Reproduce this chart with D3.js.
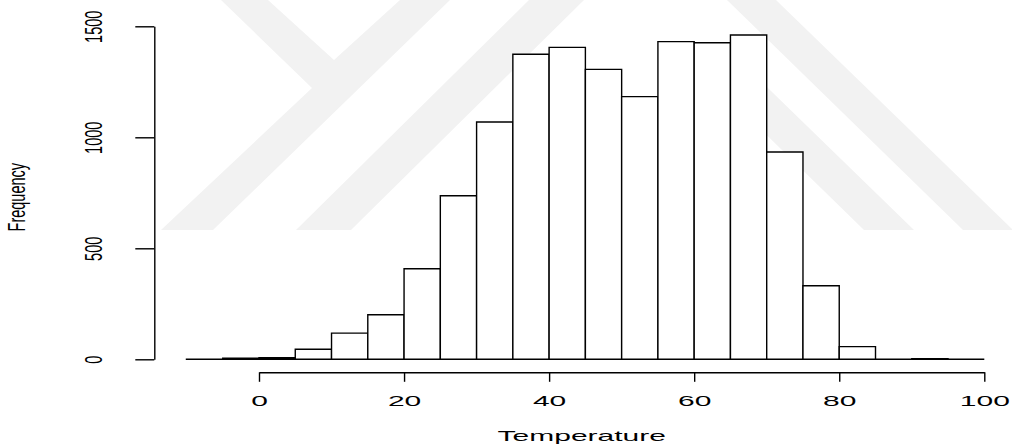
<!DOCTYPE html>
<html>
<head>
<meta charset="utf-8">
<script src="https://cdn.jsdelivr.net/npm/d3@7"></script>
<style>
  html, body { margin: 0; padding: 0; background: #fff; }
  text { font-family: "Liberation Sans", Arial, Helvetica, sans-serif; fill: #000; }
</style>
</head>
<body>
<div id="chart"></div>
<script>
'use strict';

// histogram of temperature, bins of width 5
var binStarts = [-10, -5, 0, 5, 10, 15, 20, 25, 30, 35, 40, 45, 50, 55, 60, 65, 70, 75, 80, 85, 90, 95];
var counts = [1, 5, 7, 45, 118, 201, 408, 737, 1069, 1374, 1405, 1306, 1183, 1431, 1426, 1461, 934, 331, 57, 0, 3, 0];
var binWidth = 5;
var xTicks = [0, 20, 40, 60, 80, 100];
var yTicks = [0, 500, 1000, 1500];

var width = 1012,
    height = 445;

var svg = d3.select('#chart').append('svg')
    .attr('width', width)
    .attr('height', height);

// faint watermark behind the plot
var watermark = [
  [[221, 0], [268, 0], [334, 60], [400, 0], [450, 0], [213, 230], [161, 230], [312, 88]],
  [[296, 230], [351, 230], [584, 0], [529, 0]],
  [[562, 230], [617, 230], [741, 110], [864, 230], [914, 230], [738, 59]],
  [[727, 0], [776, 0], [1013, 230], [963, 230]]
];
svg.append('g')
  .selectAll('polygon')
  .data(watermark)
  .enter().append('polygon')
    .attr('points', function(d) { return d.map(function(p) { return p.join(','); }).join(' '); })
    .attr('fill', '#f2f2f2');

var x = d3.scaleLinear().domain([0, 100]).range([259, 984.3]);
var y = d3.scaleLinear().domain([0, 1500]).range([359.3, 26.3]);

// bars (paths so that empty bins still show as a line)
svg.append('g')
  .selectAll('path')
  .data(binStarts)
  .enter().append('path')
    .attr('d', function(d, i) {
      var x0 = x(d), x1 = x(d + binWidth), y0 = y(0), y1 = y(counts[i]);
      return 'M' + x0 + ',' + y0 + 'V' + y1 + 'H' + x1 + 'V' + y0 + 'Z';
    })
    .attr('fill', '#fff')
    .attr('stroke', '#000')
    .attr('stroke-width', 1.4);

// x axis
var xAxis = svg.append('g')
    .attr('transform', 'translate(0,372.3)')
    .call(d3.axisBottom(x).tickValues(xTicks).tickFormat(d3.format('d')).tickSize(9.5).tickSizeOuter(0));
xAxis.selectAll('path, line').attr('stroke', '#000').attr('stroke-width', 1.4);
xAxis.selectAll('text')
    .attr('y', 0).attr('dy', 0)
    .attr('transform', 'translate(0,33.7) scale(2,1)')
    .style('font-size', '15px')
    .attr('fill', '#000');

// y axis
var yAxis = svg.append('g')
    .attr('transform', 'translate(154.3,0)')
    .call(d3.axisLeft(y).tickValues(yTicks).tickFormat(d3.format('d')).tickSize(19).tickSizeOuter(0));
yAxis.selectAll('path, line').attr('stroke', '#000').attr('stroke-width', 1.4);
yAxis.selectAll('text')
    .attr('x', 0).attr('dy', 0)
    .attr('text-anchor', 'middle')
    .attr('transform', 'translate(-52.3,0) rotate(-90) scale(1,1.65)')
    .style('font-size', '14.5px')
    .attr('fill', '#000');

// axis titles
svg.append('text')
    .attr('text-anchor', 'middle')
    .attr('transform', 'translate(' + x(44.5) + ',440.8) scale(2,1)')
    .style('font-size', '15px')
    .text('Temperature');

svg.append('text')
    .attr('text-anchor', 'middle')
    .attr('transform', 'translate(25,' + y(730) + ') rotate(-90) scale(1,1.65)')
    .style('font-size', '14.5px')
    .text('Frequency');
</script>
</body>
</html>
